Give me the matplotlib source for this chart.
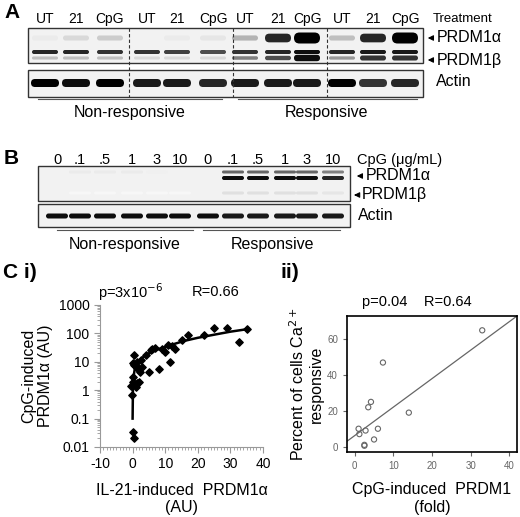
import matplotlib
matplotlib.use("Agg")
import numpy as np
from matplotlib import pyplot as plt

# ---- panel A band intensities (0..1), lanes UT/21/CpG x 4 donors
a_lanes = ["UT", "21", "CpG"] * 4
a_alpha = [0.08, 0.15, 0.2, 0.05, 0.08, 0.1, 0.3, 0.85, 1.0, 0.25, 0.85, 1.0]
a_beta = [0.85, 0.85, 0.8, 0.8, 0.75, 0.7, 0.8, 0.85, 0.95, 0.85, 0.9, 0.9]
a_beta2 = [0.25, 0.25, 0.25, 0.15, 0.15, 0.15, 0.5, 0.7, 0.95, 0.4, 0.8, 0.8]
a_actin = [1.0, 0.95, 1.0, 0.9, 0.9, 0.85, 0.9, 0.9, 0.9, 1.0, 0.8, 0.85]

# ---- panel B
b_lanes = ["0", ".1", ".5", "1", "3", "10"] * 2
b_alpha_up = [0.0, 0.08, 0.08, 0.08, 0.06, 0.05, 0.0, 0.6, 0.6, 0.6, 0.6, 0.5]
b_alpha = [0.0, 0.0, 0.0, 0.0, 0.0, 0.0, 0.0, 0.95, 0.95, 0.95, 0.95, 0.85]
b_beta = [0.0, 0.03, 0.03, 0.03, 0.03, 0.03, 0.0, 0.12, 0.12, 0.12, 0.12, 0.1]
b_actin = [0.95, 0.95, 0.95, 0.95, 0.95, 0.95, 0.95, 0.9, 0.9, 0.9, 0.9, 0.9]

# ---- panel C i
ci_x = [-0.5, -0.3, 0.2, 0.0, 0.3, 0.5, 0.8, 1.0, 1.2, 1.5, 2.0, 2.2, 2.5, 3.0, 4.0,
        5.0, 5.5, 6.0, 7.0, 8.0, 9.0, 10.0, 11.0, 11.5, 12.0, 13.0, 15.0, 17.0,
        22.0, 25.0, 29.0, 32.5, 35.0, 0.5, 0.0, 0.0, 1.0, 1.5]
ci_y = [1.4, 0.7, 3.0, 0.035, 0.02, 18.0, 8.0, 1.3, 6.0, 10.0, 2.0, 4.5, 12.0, 6.5,
        18.0, 4.2, 25.0, 28.0, 30.0, 5.5, 28.0, 22.0, 40.0, 9.5, 35.0, 28.0, 60.0,
        90.0, 90.0, 160.0, 150.0, 50.0, 140.0, 8.0, 2.0, 9.0, 7.0, 1.8]
ci_fit_x = [0.0, 0.1, 0.3, 0.6, 1.0, 2.0, 3.0, 5.0, 8.0, 12.0, 16.0, 20.0, 25.0, 30.0, 35.0]
ci_fit_y = [0.1, 1.0, 3.0, 5.0, 7.0, 11.0, 14.0, 20.0, 28.0, 40.0, 55.0, 70.0, 90.0, 115.0, 140.0]

# ---- panel C ii
cii_x = [1.0, 1.2, 2.5, 2.5, 2.8, 3.5, 4.2, 5.0, 6.0, 7.3, 14.0, 33.0]
cii_y = [10.0, 7.0, 0.5, 1.0, 9.0, 22.0, 25.0, 4.0, 10.0, 47.0, 19.0, 65.0]
cii_fit_x = [-2.0, 42.0]
cii_fit_y = [3.0, 73.0]

W, H = 520, 517
plt.rcParams["font.family"] = ["Liberation Sans", "DejaVu Sans"]
plt.rcParams["axes.unicode_minus"] = False
fig = plt.figure(figsize=(W / 100, H / 100), dpi=100)
ov = fig.add_axes([0, 0, 1, 1])
ov.set_xlim(0, W)
ov.set_ylim(H, 0)
ov.axis("off")


def band(cx, cy, w, h, level):
    if level <= 0:
        return
    g = 1 - level
    ov.add_patch(matplotlib.patches.FancyBboxPatch(
        (cx - w / 2, cy - h / 2), w, h, boxstyle="round,pad=0,rounding_size=%g" % (h / 2),
        fc=(g, g, g), ec="none", zorder=3))


def box(x0, y0, x1, y1):
    ov.add_patch(plt.Rectangle((x0, y0), x1 - x0, y1 - y0, fc="#f2f2f2", ec="#333333", lw=1, zorder=2))


arrow = dict(arrowstyle="-|>", color="black", lw=0.8, mutation_scale=8)

# panel A
ov.text(4, 12, "A", fontsize=15, fontweight="bold", va="center")
a_x = [45, 76, 110, 147, 177, 213, 245, 278, 307, 342, 373, 405]
box(28, 28, 423, 63)
box(28, 70, 423, 97)
for i, lab in enumerate(a_lanes):
    cx = a_x[i]
    ov.text(cx, 19, lab, fontsize=10, ha="center", va="center")
    band(cx, 38, 26, 5 + 6 * a_alpha[i] ** 3, a_alpha[i])
    band(cx, 52, 26, 4, a_beta[i])
    band(cx, 58, 26, 3 + 4 * a_beta2[i] ** 3, a_beta2[i])
    band(cx, 83, 28, 8, a_actin[i])
for xd in [129, 233, 327]:
    ov.plot([xd, xd], [28, 97], ls=(0, (3, 2)), color="#333333", lw=0.8, zorder=4)
ov.text(433, 19, "Treatment", fontsize=9.5, va="center")
ov.annotate("PRDM1α", (425, 38), xytext=(437, 38), fontsize=11.5, va="center", arrowprops=arrow)
ov.annotate("PRDM1β", (425, 60), xytext=(437, 60), fontsize=11.5, va="center", arrowprops=arrow)
ov.text(436, 81, "Actin", fontsize=11.5, va="center")
ov.plot([38, 222], [99, 99], color="#555555", lw=0.8)
ov.plot([238, 417], [99, 99], color="#555555", lw=0.8)
ov.text(130, 112, "Non-responsive", fontsize=11.5, ha="center", va="center")
ov.text(327, 112, "Responsive", fontsize=11.5, ha="center", va="center")

# panel B
ov.text(4, 158, "B", fontsize=15, fontweight="bold", va="center")
b_x = [57, 80, 105, 132, 157, 180, 208, 233, 258, 285, 307, 333]
box(38, 166, 350, 201)
box(38, 204, 350, 227)
for i, lab in enumerate(b_lanes):
    cx = b_x[i]
    ov.text(cx, 160, lab, fontsize=10.5, ha="center", va="center")
    band(cx, 172, 22, 3, b_alpha_up[i])
    band(cx, 178, 22, 4, b_alpha[i])
    band(cx, 193, 22, 3, b_beta[i])
    band(cx, 216, 22, 5, b_actin[i])
ov.text(357, 160, "CpG (μg/mL)", fontsize=10.5, va="center")
ov.annotate("PRDM1α", (354, 176), xytext=(366, 176), fontsize=11.5, va="center", arrowprops=arrow)
ov.annotate("PRDM1β", (354, 195), xytext=(362, 195), fontsize=11.5, va="center", arrowprops=arrow)
ov.text(358, 216, "Actin", fontsize=11.5, va="center")
ov.plot([57, 193], [230, 230], color="#555555", lw=0.8)
ov.plot([203, 340], [230, 230], color="#555555", lw=0.8)
ov.text(125, 244, "Non-responsive", fontsize=11.5, ha="center", va="center")
ov.text(272, 244, "Responsive", fontsize=11.5, ha="center", va="center")

# panel C labels
ov.text(3, 273, "C i)", fontsize=15, fontweight="bold", va="center")
ov.text(280, 273, "ii)", fontsize=15, fontweight="bold", va="center")
ov.text(98, 292, "p=3x10$^{-6}$", fontsize=10.5, va="center")
ov.text(192, 292, "R=0.66", fontsize=10.5, va="center")
ov.text(362, 302, "p=0.04    R=0.64", fontsize=10.5, va="center")


def fax(x0, y0, x1, y1):
    return fig.add_axes([x0 / W, 1 - y1 / H, (x1 - x0) / W, (y1 - y0) / H])


# C i
ax1 = fax(100, 305, 263, 447)
ax1.set_yscale("log")
ax1.scatter(ci_x, ci_y, marker="D", s=14, color="black", zorder=3)
ax1.plot(ci_fit_x, ci_fit_y, color="black", lw=1.8)
ax1.set_xlim(-10, 40)
ax1.set_ylim(0.01, 1000)
ax1.set_yticks([0.01, 0.1, 1, 10, 100, 1000])
ax1.set_yticklabels(["0.01", "0.1", "1", "10", "100", "1000"])
ax1.set_xticks([-10, 0, 10, 20, 30, 40])
ax1.xaxis.set_minor_locator(matplotlib.ticker.MultipleLocator(1))
for s in ["top", "right"]:
    ax1.spines[s].set_visible(False)
ax1.spines["left"].set_color("#999999")
ax1.spines["bottom"].set_color("#999999")
ax1.tick_params(colors="#999999", labelcolor="black", labelsize=10, length=4)
ax1.tick_params(which="minor", colors="#999999", length=2)
ax1.set_xlabel("IL-21-induced  PRDM1α\n(AU)", fontsize=11.5, labelpad=8)
ax1.set_ylabel("CpG-induced\nPRDM1α (AU)", fontsize=11.5)

# C ii
ax2 = fax(347, 316, 517, 452)
ax2.scatter(cii_x, cii_y, s=14, facecolors="none", edgecolors="#666666", lw=0.8)
ax2.plot(cii_fit_x, cii_fit_y, color="#666666", lw=0.9)
ax2.set_xlim(-2, 42)
ax2.set_ylim(-3, 73)
ax2.set_xticks([0, 10, 20, 30, 40])
ax2.set_yticks([0, 20, 40, 60])
ax2.tick_params(labelsize=7, colors="#666666", labelcolor="#666666", length=3)
for s in ax2.spines.values():
    s.set_linewidth(1.2)
ax2.set_xlabel("CpG-induced  PRDM1\n(fold)", fontsize=11.5, labelpad=8)
ax2.set_ylabel("Percent of cells Ca$^{2+}$\nresponsive", fontsize=11.5, labelpad=2)

fig.savefig("out.png", dpi=100)
